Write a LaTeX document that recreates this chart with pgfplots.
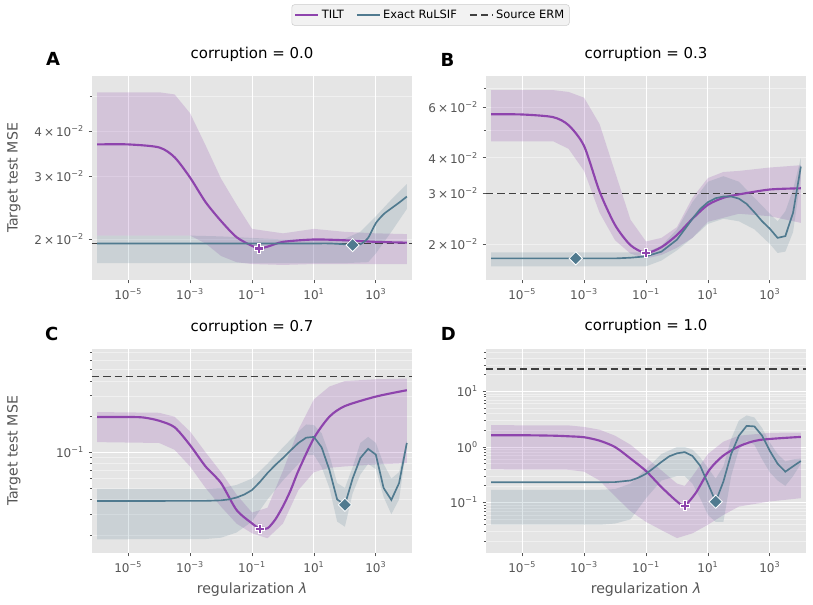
\documentclass[border=0pt]{standalone}
\usepackage{fontspec}
\setmainfont{DejaVu Sans}
\usepackage{pgfplots}
\pgfplotsset{compat=1.18}

\definecolor{tiltc}{RGB}{142,68,173}
\definecolor{rulc}{RGB}{80,122,143}
\definecolor{bgc}{RGB}{229,229,229}
\definecolor{tickc}{RGB}{85,85,85}
\definecolor{ermc}{RGB}{64,64,64}

\pgfdeclareplotmark{fatplus}{%
  \pgfpathmoveto{\pgfqpoint{-\pgfplotmarksize}{-0.34\pgfplotmarksize}}%
  \pgfpathlineto{\pgfqpoint{-0.34\pgfplotmarksize}{-0.34\pgfplotmarksize}}%
  \pgfpathlineto{\pgfqpoint{-0.34\pgfplotmarksize}{-\pgfplotmarksize}}%
  \pgfpathlineto{\pgfqpoint{0.34\pgfplotmarksize}{-\pgfplotmarksize}}%
  \pgfpathlineto{\pgfqpoint{0.34\pgfplotmarksize}{-0.34\pgfplotmarksize}}%
  \pgfpathlineto{\pgfqpoint{\pgfplotmarksize}{-0.34\pgfplotmarksize}}%
  \pgfpathlineto{\pgfqpoint{\pgfplotmarksize}{0.34\pgfplotmarksize}}%
  \pgfpathlineto{\pgfqpoint{0.34\pgfplotmarksize}{0.34\pgfplotmarksize}}%
  \pgfpathlineto{\pgfqpoint{0.34\pgfplotmarksize}{\pgfplotmarksize}}%
  \pgfpathlineto{\pgfqpoint{-0.34\pgfplotmarksize}{\pgfplotmarksize}}%
  \pgfpathlineto{\pgfqpoint{-0.34\pgfplotmarksize}{0.34\pgfplotmarksize}}%
  \pgfpathlineto{\pgfqpoint{-\pgfplotmarksize}{0.34\pgfplotmarksize}}%
  \pgfpathclose
  \pgfusepathqfillstroke}

\pgfplotsset{
  every axis/.append style={
    scale only axis, width=240pt, height=153pt,
    xmin=6.8e-7, xmax=1.47e4,
    axis background/.style={fill=bgc},
    axis line style={draw=none},
    tick align=outside, tick pos=left,
    major tick length=2.6pt, minor tick length=1.6pt,
    tick style={draw=tickc, line width=0.6pt},
    xtick={1e-5,1e-3,1e-1,1e1,1e3},
    xticklabels={10\textsuperscript{−5},10\textsuperscript{−3},10\textsuperscript{−1},10\textsuperscript{1},10\textsuperscript{3}},
    xminorticks=false,
    xmajorgrids, yminorgrids,
    major grid style={draw=white, line width=0.7pt},
    minor grid style={draw=white, line width=0.5pt, opacity=0.45},
    ticklabel style={font=\fontsize{9}{10}\selectfont, text=tickc},
    title style={font=\fontsize{11.2}{13}\selectfont, anchor=base, yshift=7.5pt},
    label style={font=\fontsize{10.6}{12}\selectfont, text=tickc},
  },
  tiltline/.style={color=tiltc, line width=1.6pt, smooth, tension=0.45},
  rulline/.style={color=rulc, line width=1.25pt},
  ermline/.style={color=ermc, line width=1.3pt, dash pattern=on 5.5pt off 3pt},
  tiltband/.style={fill=tiltc, fill opacity=0.2, draw=none, forget plot},
  rulband/.style={fill=rulc, fill opacity=0.18, draw=none, forget plot},
  tiltmark/.style={only marks, mark=fatplus, mark size=3.5pt, mark options={fill=tiltc, draw=white, line width=0.5pt}, forget plot},
  rulmark/.style={only marks, mark=square*, mark size=3.5pt, mark options={rotate=45, fill=rulc, draw=white, line width=0.6pt}, forget plot},
}

\begin{document}
\begin{tikzpicture}
\path[use as bounding box] (0pt,0pt) rectangle (609.75pt,-453.75pt);

% ---------------- A ----------------
\begin{loglogaxis}[at={(69pt,-210pt)}, anchor=south west,
  ymin=0.01544, ymax=0.0568,
  ytick={0.02,0.03,0.04},
  yticklabels={2\,×\,10\textsuperscript{−2},3\,×\,10\textsuperscript{−2},4\,×\,10\textsuperscript{−2}},
  minor ytick={0.02,0.03,0.04,0.05},
  title={corruption = 0.0},
  ylabel={Target test MSE},
  ylabel style={at={(axis description cs:-0.244,0.5)}, anchor=center},
  legend style={at={(1.058,1.299)}, anchor=center, legend columns=3, draw={rgb,255:red,204;green,204;blue,204}, fill={rgb,255:red,242;green,242;blue,242}, rounded corners=2pt, font=\fontsize{8.6}{10}\selectfont, inner sep=1.8pt, /tikz/every even column/.append style={column sep=7pt}},
  legend cell align=left,
]
\addplot[tiltband] coordinates {(1e-6,0.0512)(1e-4,0.0512)(3.162e-4,0.0505)(1e-3,0.0448)(3.162e-3,0.0365)(1e-2,0.0295)(3.162e-2,0.0250)(1e-1,0.0214)(1,0.0208)(10,0.0214)(100,0.0210)(1000,0.0208)(1e4,0.0207)
 (1e4,0.0171)(100,0.0171)(10,0.0171)(1,0.0170)(1e-1,0.0171)(3.162e-2,0.0173)(1e-2,0.0180)(3.162e-3,0.0195)(1e-3,0.0205)(1e-6,0.0205)};
\addplot[rulband] coordinates {(1e-6,0.0205)(1e-3,0.0205)(1e-2,0.0204)(1e-1,0.0202)(1,0.0200)(10,0.0200)(100,0.0201)(316.2,0.0210)(1000,0.0232)(3162,0.0258)(1e4,0.0285)
 (1e4,0.0243)(3162,0.0210)(1000,0.0183)(562.3,0.0173)(100,0.0172)(10,0.0172)(1e-1,0.0172)(1e-3,0.0172)(1e-6,0.0172)};
\addplot[ermline, forget plot] coordinates {(6.8e-7,0.0195)(1.47e4,0.0195)};
\addplot[tiltline] coordinates {(1e-6,0.0367)(1e-5,0.0367)(1e-4,0.0360)(3.162e-4,0.0338)(1e-3,0.0297)(3.162e-3,0.0254)(1e-2,0.0225)(3.162e-2,0.0203)(1e-1,0.0192)(0.17,0.0189)(0.3162,0.0191)(1,0.0197)(10,0.0200)(100,0.0199)(1000,0.0197)(1e4,0.0196)};
\addlegendentry{TILT}
\addplot[rulline, smooth, tension=0.4] coordinates {(1e-6,0.0195)(1e-4,0.0195)(1e-2,0.0195)(1,0.0195)(10,0.0195)(31.62,0.0195)(100,0.0194)(177.8,0.0193)(316.2,0.0194)(562.3,0.0202)(1000,0.0222)(1778,0.0235)(3162,0.0244)(5623,0.0253)(1e4,0.0263)};
\addlegendentry{Exact RuLSIF}
\addlegendimage{ermline}
\addlegendentry{Source ERM}
\addplot[tiltmark] coordinates {(0.17,0.0189)};
\addplot[rulmark] coordinates {(177.8,0.0193)};
\end{loglogaxis}

% ---------------- B ----------------
\begin{loglogaxis}[at={(364.5pt,-210pt)}, anchor=south west,
  ymin=0.01496, ymax=0.0773,
  ytick={0.02,0.03,0.04,0.06},
  yticklabels={2\,×\,10\textsuperscript{−2},3\,×\,10\textsuperscript{−2},4\,×\,10\textsuperscript{−2},6\,×\,10\textsuperscript{−2}},
  minor ytick={0.02,0.03,0.04,0.05,0.06,0.07},
  title={corruption = 0.3},
]
\addplot[tiltband] coordinates {(1e-6,0.069)(1e-4,0.069)(3.162e-4,0.068)(1e-3,0.0649)(3.162e-3,0.0525)(1e-2,0.0357)(3.162e-2,0.0243)(1e-1,0.0204)(0.3162,0.0210)(1,0.0229)(3.162,0.0290)(10,0.034)(31.62,0.0357)(100,0.036)(1000,0.037)(1e4,0.0377)
 (1e4,0.0237)(1000,0.025)(100,0.0255)(10,0.0239)(3.162,0.0210)(1,0.0194)(0.3162,0.0183)(1e-1,0.0178)(3.162e-2,0.0185)(1e-2,0.0206)(3.162e-3,0.0257)(1e-3,0.036)(3.162e-4,0.043)(1e-4,0.0457)(1e-6,0.0457)};
\addplot[rulband] coordinates {(1e-6,0.0187)(1e-1,0.0187)(0.3162,0.0197)(1,0.0225)(3.162,0.028)(10,0.033)(31.62,0.0345)(100,0.033)(316.2,0.029)(1000,0.0255)(1778,0.024)(3162,0.026)(5623,0.031)(1e4,0.040)
 (1e4,0.034)(5623,0.022)(3162,0.0188)(1778,0.0186)(1000,0.020)(316.2,0.0225)(100,0.024)(31.62,0.0245)(10,0.0235)(3.162,0.021)(1,0.019)(0.3162,0.0175)(1e-1,0.0167)(1e-6,0.0167)};
\addplot[ermline] coordinates {(6.8e-7,0.030)(1.47e4,0.030)};
\addplot[tiltline] coordinates {(1e-6,0.0568)(1e-5,0.0567)(1e-4,0.0555)(3.162e-4,0.0520)(1e-3,0.0440)(3.162e-3,0.0305)(1e-2,0.0233)(3.162e-2,0.0198)(1e-1,0.0186)(0.3162,0.0195)(1,0.0215)(3.162,0.0245)(10,0.0274)(31.62,0.0290)(100,0.0298)(1000,0.0310)(1e4,0.0313)};
\addplot[rulline] coordinates {(1e-6,0.0178)(1e-2,0.0178)(3.162e-2,0.0179)(1e-1,0.0181)(0.3162,0.0188)(1,0.0207)(1.778,0.0225)(3.162,0.0245)(5.623,0.0265)(10,0.0280)(17.78,0.0289)(31.62,0.0293)(56.23,0.0293)(100,0.0288)(177.8,0.0276)(316.2,0.0258)(562.3,0.0240)(1000,0.0226)(1778,0.0210)(3162,0.0213)(5623,0.0257)(1e4,0.0373)};
\addplot[tiltmark] coordinates {(0.1,0.0186)};
\addplot[rulmark] coordinates {(5.4e-4,0.0178)};
\end{loglogaxis}

% ---------------- C ----------------
\begin{loglogaxis}[at={(69pt,-414.75pt)}, anchor=south west,
  ymin=0.0141, ymax=0.747,
  ytick={0.1}, yticklabels={10\textsuperscript{−1}}, ymajorgrids,
  minor ytick={0.02,0.03,0.04,0.05,0.06,0.07,0.08,0.09,0.2,0.3,0.4,0.5,0.6,0.7},
  title={corruption = 0.7},
  ylabel={Target test MSE},
  ylabel style={at={(axis description cs:-0.244,0.5)}, anchor=center},
  xlabel={regularization \textit{λ}},
  xlabel style={at={(axis description cs:0.5,-0.181)}, anchor=center},
]
\addplot[tiltband] coordinates {(1e-6,0.219)(1e-4,0.216)(3.162e-4,0.200)(1e-3,0.150)(3.162e-3,0.100)(1e-2,0.068)(3.162e-2,0.044)(1e-1,0.031)(0.3162,0.034)(1,0.070)(3.162,0.156)(10,0.28)(31.62,0.36)(100,0.40)(1000,0.415)(1e4,0.42)
 (1e4,0.081)(1000,0.079)(100,0.076)(31.62,0.074)(10,0.068)(3.162,0.048)(1,0.025)(0.3162,0.0188)(1e-1,0.0207)(3.162e-2,0.025)(1e-2,0.0347)(3.162e-3,0.050)(1e-3,0.076)(3.162e-4,0.105)(1e-4,0.120)(1e-6,0.122)};
\addplot[rulband] coordinates {(1e-6,0.049)(3.162e-3,0.049)(1e-2,0.050)(3.162e-2,0.053)(1e-1,0.060)(0.3162,0.080)(1,0.110)(3.162,0.150)(5.623,0.172)(10,0.170)(17.78,0.145)(31.62,0.095)(56.23,0.055)(100,0.050)(177.8,0.075)(316.2,0.12)(562.3,0.135)(1000,0.12)(1778,0.080)(3162,0.060)(5623,0.068)(1e4,0.125)
 (1e4,0.115)(5623,0.040)(3162,0.030)(1778,0.042)(1000,0.072)(562.3,0.080)(316.2,0.065)(177.8,0.045)(100,0.0235)(56.23,0.026)(31.62,0.050)(17.78,0.075)(10,0.095)(5.623,0.095)(3.162,0.080)(1,0.058)(0.3162,0.040)(1e-1,0.026)(3.162e-2,0.021)(1e-2,0.019)(3.162e-3,0.0185)(1e-6,0.0184)};
\addplot[ermline] coordinates {(6.8e-7,0.437)(1.47e4,0.437)};
\addplot[tiltline] coordinates {(1e-6,0.199)(1e-5,0.199)(3.162e-5,0.197)(1e-4,0.185)(3.162e-4,0.163)(1e-3,0.115)(3.162e-3,0.076)(1e-2,0.055)(3.162e-2,0.0326)(1e-1,0.0251)(0.1778,0.0227)(0.3162,0.0228)(0.5623,0.027)(1,0.035)(1.778,0.048)(3.162,0.070)(10,0.132)(31.62,0.20)(100,0.246)(1000,0.296)(1e4,0.335)};
\addplot[rulline] coordinates {(1e-6,0.0388)(3.162e-3,0.0389)(1e-2,0.0393)(1.778e-2,0.0400)(3.162e-2,0.0415)(5.623e-2,0.0440)(1e-1,0.0480)(0.1778,0.0560)(0.3162,0.0668)(0.5623,0.0780)(1,0.0896)(1.778,0.104)(3.162,0.120)(5.623,0.133)(10,0.135)(17.78,0.110)(31.62,0.071)(56.23,0.040)(100,0.036)(177.8,0.060)(316.2,0.0896)(562.3,0.107)(1000,0.0956)(1778,0.050)(3162,0.0396)(5623,0.055)(1e4,0.120)};
\addplot[tiltmark] coordinates {(0.1778,0.0227)};
\addplot[rulmark] coordinates {(100,0.036)};
\end{loglogaxis}

% ---------------- D ----------------
\begin{loglogaxis}[at={(364.5pt,-414.75pt)}, anchor=south west,
  ymin=0.0124, ymax=58,
  ytick={0.1,1,10}, yticklabels={10\textsuperscript{−1},10\textsuperscript{0},10\textsuperscript{1}}, ymajorgrids,
  minor ytick={0.02,0.03,0.04,0.05,0.06,0.07,0.08,0.09,0.2,0.3,0.4,0.5,0.6,0.7,0.8,0.9,2,3,4,5,6,7,8,9,20,30,40,50},
  title={corruption = 1.0},
  xlabel={regularization \textit{λ}},
  xlabel style={at={(axis description cs:0.5,-0.181)}, anchor=center},
]
\addplot[tiltband] coordinates {(1e-6,2.47)(3.162e-4,2.45)(1e-3,2.3)(3.162e-3,2.05)(1e-2,1.6)(3.162e-2,1.1)(1e-1,0.65)(0.3162,0.38)(1,0.22)(1.778,0.20)(3.162,0.30)(10,0.75)(31.62,1.25)(100,1.6)(1000,1.8)(1e4,1.82)
 (1e4,0.12)(1000,0.105)(100,0.085)(31.62,0.06)(10,0.040)(3.162,0.028)(1,0.023)(0.3162,0.032)(1e-1,0.045)(3.162e-2,0.07)(1e-2,0.13)(3.162e-3,0.25)(1e-3,0.36)(3.162e-4,0.39)(1e-6,0.395)};
\addplot[rulband] coordinates {(1e-6,0.17)(3.162e-3,0.17)(1e-2,0.175)(3.162e-2,0.22)(1e-1,0.40)(0.3162,0.75)(1,1.0)(1.778,1.0)(3.162,0.9)(5.623,0.65)(10,0.42)(17.78,0.27)(31.62,0.45)(56.23,1.4)(100,3.0)(177.8,3.7)(316.2,3.4)(562.3,2.2)(1000,1.2)(1778,0.75)(3162,0.55)(5623,0.6)(1e4,0.62)
 (1e4,0.5)(5623,0.3)(3162,0.2)(1778,0.25)(1000,0.35)(562.3,0.6)(316.2,1.1)(177.8,1.3)(100,0.9)(56.23,0.3)(31.62,0.045)(17.78,0.045)(10,0.06)(5.623,0.12)(3.162,0.22)(1.778,0.30)(1,0.30)(0.3162,0.25)(1e-1,0.12)(3.162e-2,0.05)(1e-2,0.042)(3.162e-3,0.04)(1e-6,0.04)};
\addplot[ermline] coordinates {(6.8e-7,25.4)(1.47e4,25.4)};
\addplot[tiltline] coordinates {(1e-6,1.63)(1e-5,1.63)(1e-4,1.60)(3.162e-4,1.56)(1e-3,1.50)(3.162e-3,1.30)(1e-2,1.00)(3.162e-2,0.62)(1e-1,0.37)(0.3162,0.19)(1,0.105)(1.778,0.089)(4.07,0.15)(11.2,0.39)(30.2,0.69)(105,1.04)(468,1.34)(1e4,1.52)};
\addplot[rulline] coordinates {(1e-6,0.232)(3.162e-3,0.232)(1e-2,0.234)(3.162e-2,0.25)(5.623e-2,0.28)(1e-1,0.33)(0.1778,0.42)(0.3162,0.54)(0.5623,0.68)(1,0.77)(1.778,0.81)(3.162,0.69)(5.623,0.46)(10,0.22)(17.78,0.104)(31.62,0.24)(56.23,0.75)(100,1.6)(177.8,2.4)(316.2,2.35)(562.3,1.6)(1000,0.85)(1778,0.50)(3162,0.36)(5623,0.45)(1e4,0.56)};
\addplot[tiltmark] coordinates {(1.778,0.089)};
\addplot[rulmark] coordinates {(17.78,0.104)};
\end{loglogaxis}

\node[font=\bfseries\fontsize{13.5}{15}\selectfont, anchor=center] at (39.75pt,-44.5pt) {A};
\node[font=\bfseries\fontsize{13.5}{15}\selectfont, anchor=center] at (335.6pt,-44.6pt) {B};
\node[font=\bfseries\fontsize{13.5}{15}\selectfont, anchor=center] at (38.8pt,-250.5pt) {C};
\node[font=\bfseries\fontsize{13.5}{15}\selectfont, anchor=center] at (336.2pt,-250.5pt) {D};
\end{tikzpicture}
\end{document}
